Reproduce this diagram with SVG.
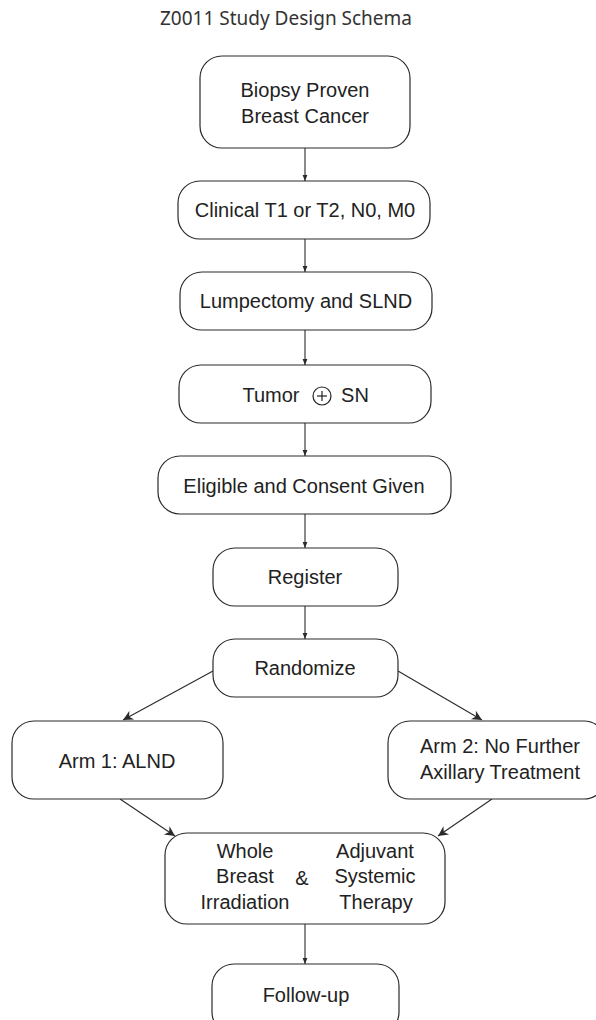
<svg xmlns="http://www.w3.org/2000/svg" width="596" height="1020" viewBox="0 0 596 1020">
<defs>
<style>
.box{fill:#fff;stroke:#2a2a2a;stroke-width:1.2}
.t{font-family:"Liberation Sans",Arial,sans-serif;font-size:20px;fill:#222;text-anchor:middle}
.title{font-family:"Noto Sans","Open Sans",sans-serif;font-size:19px;fill:#333;text-anchor:middle}
.c{stroke:#2a2a2a;stroke-width:1.1;fill:none}
</style>
<marker id="ah" viewBox="0 0 10 10" refX="10" refY="5" markerWidth="6" markerHeight="6" markerUnits="userSpaceOnUse" orient="auto">
<path d="M0,1 L10,5 L0,9 z" fill="#2a2a2a"/>
</marker>
<marker id="ahl" viewBox="0 0 10 10" refX="10" refY="5" markerWidth="12" markerHeight="10" markerUnits="userSpaceOnUse" orient="auto">
<path d="M0,0 L10,5 L0,10 L3,5 z" fill="#2a2a2a"/>
</marker>
</defs>
<rect width="596" height="1020" fill="#fff"/>
<text class="title" x="286" y="25">Z0011 Study Design Schema</text>
<g id="connectors">
<line class="c" x1="305" y1="148" x2="305" y2="181" marker-end="url(#ah)"/>
<line class="c" x1="305" y1="239" x2="305" y2="272" marker-end="url(#ah)"/>
<line class="c" x1="305" y1="330" x2="305" y2="365" marker-end="url(#ah)"/>
<line class="c" x1="305" y1="423" x2="305" y2="456" marker-end="url(#ah)"/>
<line class="c" x1="305" y1="514" x2="305" y2="548" marker-end="url(#ah)"/>
<line class="c" x1="305" y1="606" x2="305" y2="639" marker-end="url(#ah)"/>
<line class="c" x1="213" y1="671" x2="123" y2="720" marker-end="url(#ahl)"/>
<line class="c" x1="398" y1="671" x2="482" y2="720" marker-end="url(#ahl)"/>
<line class="c" x1="120" y1="799" x2="175" y2="836" marker-end="url(#ahl)"/>
<line class="c" x1="492" y1="799" x2="438" y2="836" marker-end="url(#ahl)"/>
<line class="c" x1="305" y1="924" x2="305" y2="964" marker-end="url(#ah)"/>
</g>
<g id="n1"><rect class="box" x="200" y="56" width="210" height="92" rx="22"/>
<text class="t" x="305" y="97">Biopsy Proven</text><text class="t" x="305" y="123">Breast Cancer</text></g>
<g id="n2"><rect class="box" x="178" y="181" width="252" height="58" rx="22"/>
<text class="t" x="305" y="217">Clinical T1 or T2, N0, M0</text></g>
<g id="n3"><rect class="box" x="180" y="272" width="252" height="58" rx="22"/>
<text class="t" x="306" y="308">Lumpectomy and SLND</text></g>
<g id="n4"><rect class="box" x="179" y="365" width="252" height="58" rx="22"/>
<text class="t" x="271" y="402">Tumor</text>
<circle cx="322" cy="396" r="9" fill="none" stroke="#222" stroke-width="1.2"/>
<line x1="317" y1="396" x2="327" y2="396" stroke="#222" stroke-width="1.2"/>
<line x1="322" y1="391" x2="322" y2="401" stroke="#222" stroke-width="1.2"/>
<text class="t" x="355" y="402">SN</text></g>
<g id="n5"><rect class="box" x="158" y="456" width="293" height="58" rx="22"/>
<text class="t" x="304" y="493">Eligible and Consent Given</text></g>
<g id="n6"><rect class="box" x="213" y="548" width="185" height="58" rx="22"/>
<text class="t" x="305" y="584">Register</text></g>
<g id="n7"><rect class="box" x="213" y="639" width="185" height="58" rx="22"/>
<text class="t" x="305" y="675">Randomize</text></g>
<g id="n8"><rect class="box" x="12" y="721" width="211" height="78" rx="22"/>
<text class="t" x="117" y="768">Arm 1: ALND</text></g>
<g id="n9"><rect class="box" x="388" y="721" width="218" height="78" rx="22"/>
<text class="t" x="500" y="753">Arm 2: No Further</text><text class="t" x="500" y="779">Axillary Treatment</text></g>
<g id="n10"><rect class="box" x="165" y="833" width="280" height="91" rx="22"/>
<text class="t" x="245" y="858">Whole</text><text class="t" x="245" y="883">Breast</text><text class="t" x="245" y="909">Irradiation</text>
<text class="t" x="302" y="885">&amp;</text>
<text class="t" x="375" y="858">Adjuvant</text><text class="t" x="375" y="883">Systemic</text><text class="t" x="376" y="909">Therapy</text></g>
<g id="n11"><rect class="box" x="212" y="964" width="187" height="70" rx="22"/>
<text class="t" x="306" y="1002">Follow-up</text></g>
</svg>
